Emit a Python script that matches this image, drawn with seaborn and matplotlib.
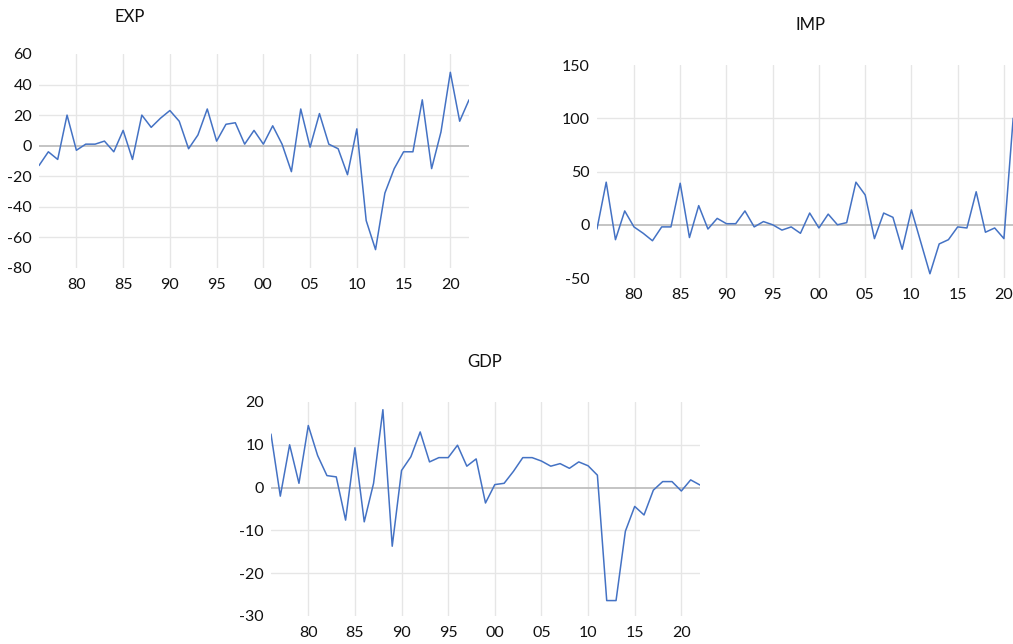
import numpy as np
import pandas as pd
import matplotlib
matplotlib.use("Agg")
import matplotlib.pyplot as plt
import seaborn as sns

# years 1976..2022
years = list(range(1976, 2023))

exp_vals = [-13, -4, -9, 20, -3, 1, 1, 3, -4, 10,
            -9, 20, 12, 18, 23, 16, -2, 7, 24, 3,
            14, 15, 1, 10, 1, 13, 1, -17, 24, -1,
            21, 1, -2, -19, 11, -49, -68, -31, -15, -4,
            -4, 30, -15, 9, 48, 16, 30]

imp_vals = [-4, 40, -14, 13, -2, -8, -15, -2, -2, 39,
            -12, 18, -4, 6, 1, 1, 13, -2, 3, 0,
            -5, -2, -8, 11, -3, 10, 0, 2, 40, 28,
            -13, 11, 7, -23, 14, -16, -46, -18, -14, -2,
            -3, 31, -7, -3, -13, 100, 100]

gdp_vals = [12.5, -2, 10, 1, 14.5, 7.5, 2.8, 2.5, -7.6, 9.3,
            -8, 1, 18.2, -13.7, 4, 7.2, 13, 6, 7, 7,
            9.9, 5, 6.7, -3.6, 0.7, 1, 3.8, 7, 7, 6.2,
            5, 5.6, 4.5, 6, 5.1, 2.9, -26.4, -26.4, -10.2, -4.4,
            -6.4, -0.6, 1.4, 1.4, -0.8, 1.8, 0.6]

year_ticks = [1980, 1985, 1990, 1995, 2000, 2005, 2010, 2015, 2020]
year_labels = ["80", "85", "90", "95", "00", "05", "10", "15", "20"]

sns.set_style("white")
plt.rcParams['font.family'] = ['Lato', 'DejaVu Sans']
plt.rcParams['axes.unicode_minus'] = False

LINE_COLOR = "#4472C4"
GRID_COLOR = "#E6E6E6"
ZERO_COLOR = "#BFBFBF"
TEXT_COLOR = "#111111"

df = pd.DataFrame({"year": years, "EXP": exp_vals, "IMP": imp_vals, "GDP": gdp_vals})

fig = plt.figure(figsize=(10.13, 6.44), dpi=100)

panels = [
    # name, axes rect, ylim, yticks, title position (px)
    ("EXP", [0.0385, 0.5839, 0.4245, 0.3323], (-80, 60), np.arange(-80, 61, 20), (130, 17)),
    ("IMP", [0.5893, 0.5683, 0.4200, 0.3307], (-50, 150), np.arange(-50, 151, 50), (810, 25)),
    ("GDP", [0.2675, 0.0435, 0.4235, 0.3323], (-30, 20), np.arange(-30, 21, 10), (485, 362)),
]

for name, rect, ylim, yticks, tpos in panels:
    ax = fig.add_axes(rect)
    # horizontal gridlines only between the end ticks, like the original
    for yv in yticks[1:-1]:
        if yv == 0:
            ax.axhline(0, color=ZERO_COLOR, lw=1.3, zorder=1)
        else:
            ax.axhline(yv, color=GRID_COLOR, lw=1.0, zorder=0)
    for xv in year_ticks:
        ax.axvline(xv, color=GRID_COLOR, lw=1.0, zorder=0)
    sns.lineplot(data=df, x="year", y=name, ax=ax, color=LINE_COLOR, lw=1.1, zorder=3)
    ax.set_xlim(1976, 2022)
    ax.set_ylim(*ylim)
    ax.set_yticks(yticks)
    ax.set_xticks(year_ticks)
    ax.set_xticklabels(year_labels)
    ax.grid(False)
    ax.set_xlabel("")
    ax.set_ylabel("")
    for s in ax.spines.values():
        s.set_visible(False)
    ax.tick_params(axis="both", length=0, labelsize=11.5, colors=TEXT_COLOR)
    ax.tick_params(axis="x", pad=7)
    ax.tick_params(axis="y", pad=5)
    fig.text(tpos[0] / 1013, 1 - tpos[1] / 644, name, ha="center", va="center",
             fontsize=12, color=TEXT_COLOR)

fig.savefig("out.png", dpi=100)
